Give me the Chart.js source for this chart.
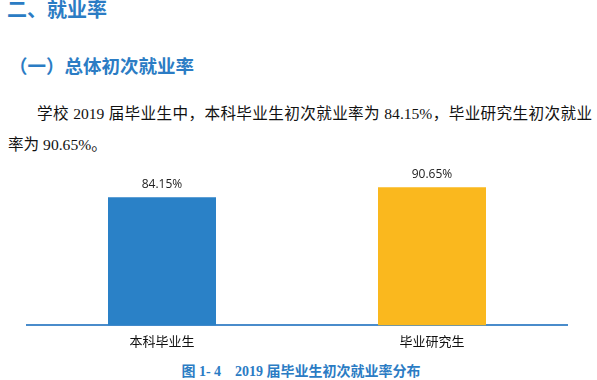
<!DOCTYPE html>
<html>
<head>
<meta charset="utf-8">
<script src="https://cdn.jsdelivr.net/npm/chart.js@4.4.0/dist/chart.umd.min.js"></script>
<style>
  html, body { margin: 0; padding: 0; background: #fff; }
  body { width: 597px; height: 380px; position: relative; overflow: hidden; }
  .h1 { position: absolute; left: 7px; top: -6px; font: bold 20px "Noto Sans CJK SC", sans-serif; color: #2b7cc4; }
  .h2 { position: absolute; left: 9px; top: 52px; font: bold 18.5px "Noto Sans CJK SC", sans-serif; color: #2b7cc4; }
  .para { position: absolute; left: 8px; top: 98px; width: 584px; font: 15.6px/31px "Liberation Serif", "Noto Sans CJK SC", serif; color: #111; text-indent: 29px; text-align: justify; text-align-last: left; }
  .cap { position: absolute; left: 0; width: 602px; top: 360px; text-align: center; font: bold 14px "Liberation Serif", "Noto Sans CJK SC", serif; color: #2b7cc4; }
  #wrap { position: absolute; left: 0; top: 150px; width: 597px; height: 209px; }
</style>
</head>
<body>
<div class="h1">二、就业率</div>
<div class="h2">（一）总体初次就业率</div>
<div class="para">学校 2019 届毕业生中，本科毕业生初次就业率为 84.15%，毕业研究生初次就业率为 90.65%。</div>
<div id="wrap"><canvas id="myChart"></canvas></div>
<div class="cap">图 1- 4&nbsp;&nbsp;&nbsp; 2019 届毕业生初次就业率分布</div>
<script>
const categorias = ["本科毕业生", "毕业研究生"];
const taxas = [84.15, 90.65];
const cores = ["#2a81c7", "#fab81e"];

// rótulo de valor acima de cada barra
const rotulos = {
  id: "rotulos",
  afterDatasetsDraw(chart) {
    const ctx = chart.ctx;
    const meta = chart.getDatasetMeta(0);
    ctx.save();
    ctx.font = "12px 'Open Sans', sans-serif";
    ctx.fillStyle = "#222";
    ctx.textAlign = "center";
    ctx.textBaseline = "middle";
    meta.data.forEach(function (bar, i) {
      ctx.fillText(taxas[i].toFixed(2) + "%", bar.x, bar.y - 13);
    });
    ctx.restore();
  }
};

const canvas = document.getElementById("myChart");
new Chart(canvas, {
  type: "bar",
  data: {
    labels: categorias,
    datasets: [{
      data: taxas,
      backgroundColor: cores,
      categoryPercentage: 1,
      barPercentage: 0.4
    }]
  },
  options: {
    responsive: true,
    maintainAspectRatio: false,
    animation: false,
    layout: { padding: { left: 27, right: 30, top: 23, bottom: 0 } },
    plugins: { legend: { display: false }, tooltip: { enabled: false } },
    scales: {
      y: { display: false, min: 0, max: 100 },
      x: {
        grid: { display: false, drawTicks: false },
        border: { display: true, color: "#4a8ccb", width: 2 },
        ticks: { color: "#111", padding: 9, font: { size: 13, family: "'Liberation Serif', 'Noto Sans CJK SC', serif" } }
      }
    }
  },
  plugins: [rotulos]
});
</script>
</body>
</html>
